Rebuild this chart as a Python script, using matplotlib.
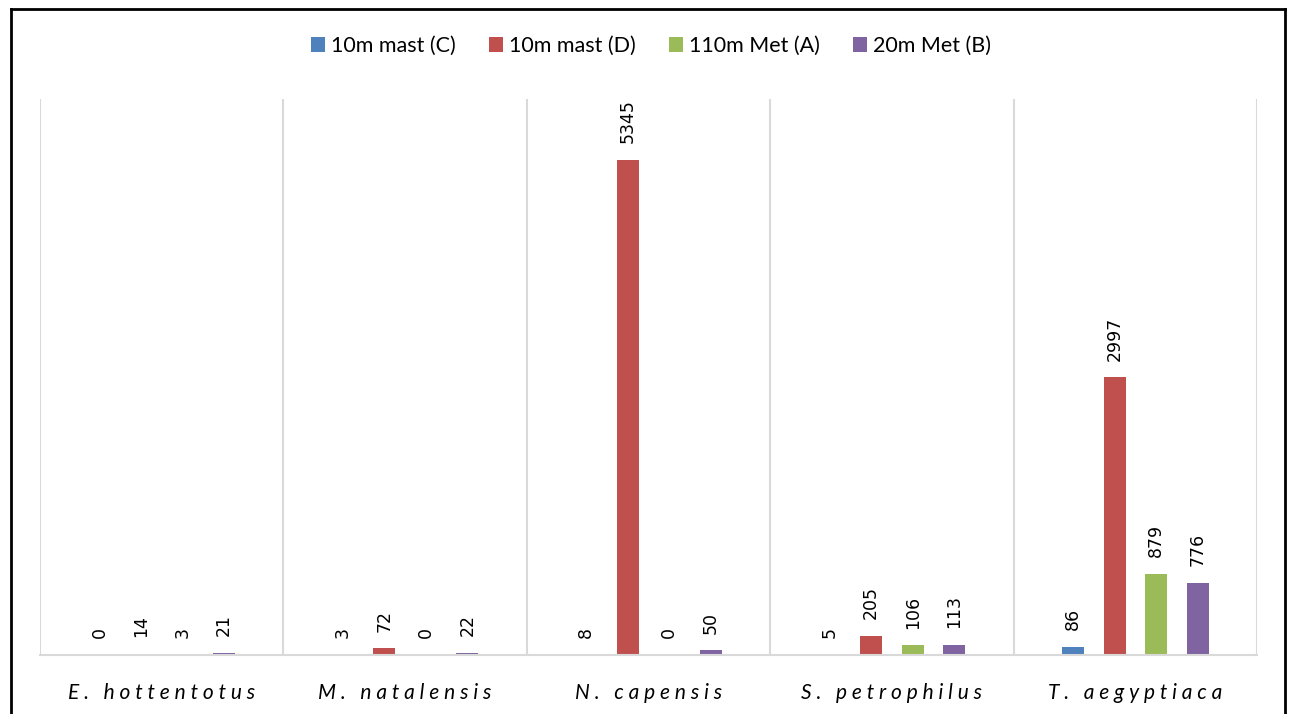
import numpy as np
import matplotlib.pyplot as plt
from matplotlib.lines import Line2D

# species and detection counts per recorder
species = ['E. hottentotus', 'M. natalensis', 'N. capensis', 'S. petrophilus', 'T. aegyptiaca']
series_names = ['10m mast (C)', '10m mast (D)', '110m Met (A)', '20m Met (B)']
mast_c = [0, 3, 8, 5, 86]
mast_d = [14, 72, 5345, 205, 2997]
met_a = [3, 0, 0, 106, 879]
met_b = [21, 22, 50, 113, 776]
colors = ['#4F81BD', '#C0504D', '#9BBB59', '#8064A2']

fig = plt.figure(figsize=(12.9, 7.14), dpi=100)
ax = fig.add_axes([40/1290, 1-655/714, 1217/1290, 556/714])

x = np.arange(len(species))
step = 0.1705
width = 0.09
for i, (vals, c, name) in enumerate(zip([mast_c, mast_d, met_a, met_b], colors, series_names)):
    pos = x + (i - 1.5) * step
    bars = ax.bar(pos, vals, width, color=c, label=name)
    for p, v in zip(pos, vals):
        ax.annotate(str(v), (p, v), xytext=(0, 12), textcoords='offset points',
                    rotation=90, ha='center', va='bottom', fontsize=12.5,
                    family='DejaVu Sans', color='#000000')

ax.set_xlim(-0.5, len(species) - 0.5)
ax.set_ylim(0, 6000)
ax.set_yticks([])
for b in np.arange(len(species) + 1) - 0.5:
    ax.axvline(b, color='#D9D9D9', lw=1.5, zorder=0)
for s in ['top', 'left', 'right']:
    ax.spines[s].set_visible(False)
ax.spines['bottom'].set_color('#D9D9D9')
ax.spines['bottom'].set_linewidth(1.5)
ax.tick_params(axis='x', length=0, pad=20)
ax.set_xticks(x)
# wide letter spacing on the species names
spaced = [' '.join(s) for s in species]
ax.set_xticklabels(spaced, fontsize=15, style='italic', family=['Lato', 'DejaVu Sans'])

fig.legend(loc='center', bbox_to_anchor=(651/1290, 1-46/714), ncol=4, frameon=False,
           prop={'family': 'Lato', 'size': 15.5}, handlelength=0.65, handleheight=0.65,
           handletextpad=0.28, columnspacing=1.55)

# outer frame
fig.add_artist(Line2D([11/1290, 11/1290], [0, 1-9/714], color='black', lw=2, transform=fig.transFigure))
fig.add_artist(Line2D([11/1290, 1285/1290], [1-9/714, 1-9/714], color='black', lw=2, transform=fig.transFigure))
fig.add_artist(Line2D([1285/1290, 1285/1290], [0, 1-9/714], color='black', lw=2, transform=fig.transFigure))

fig.savefig('out.png', dpi=100)
